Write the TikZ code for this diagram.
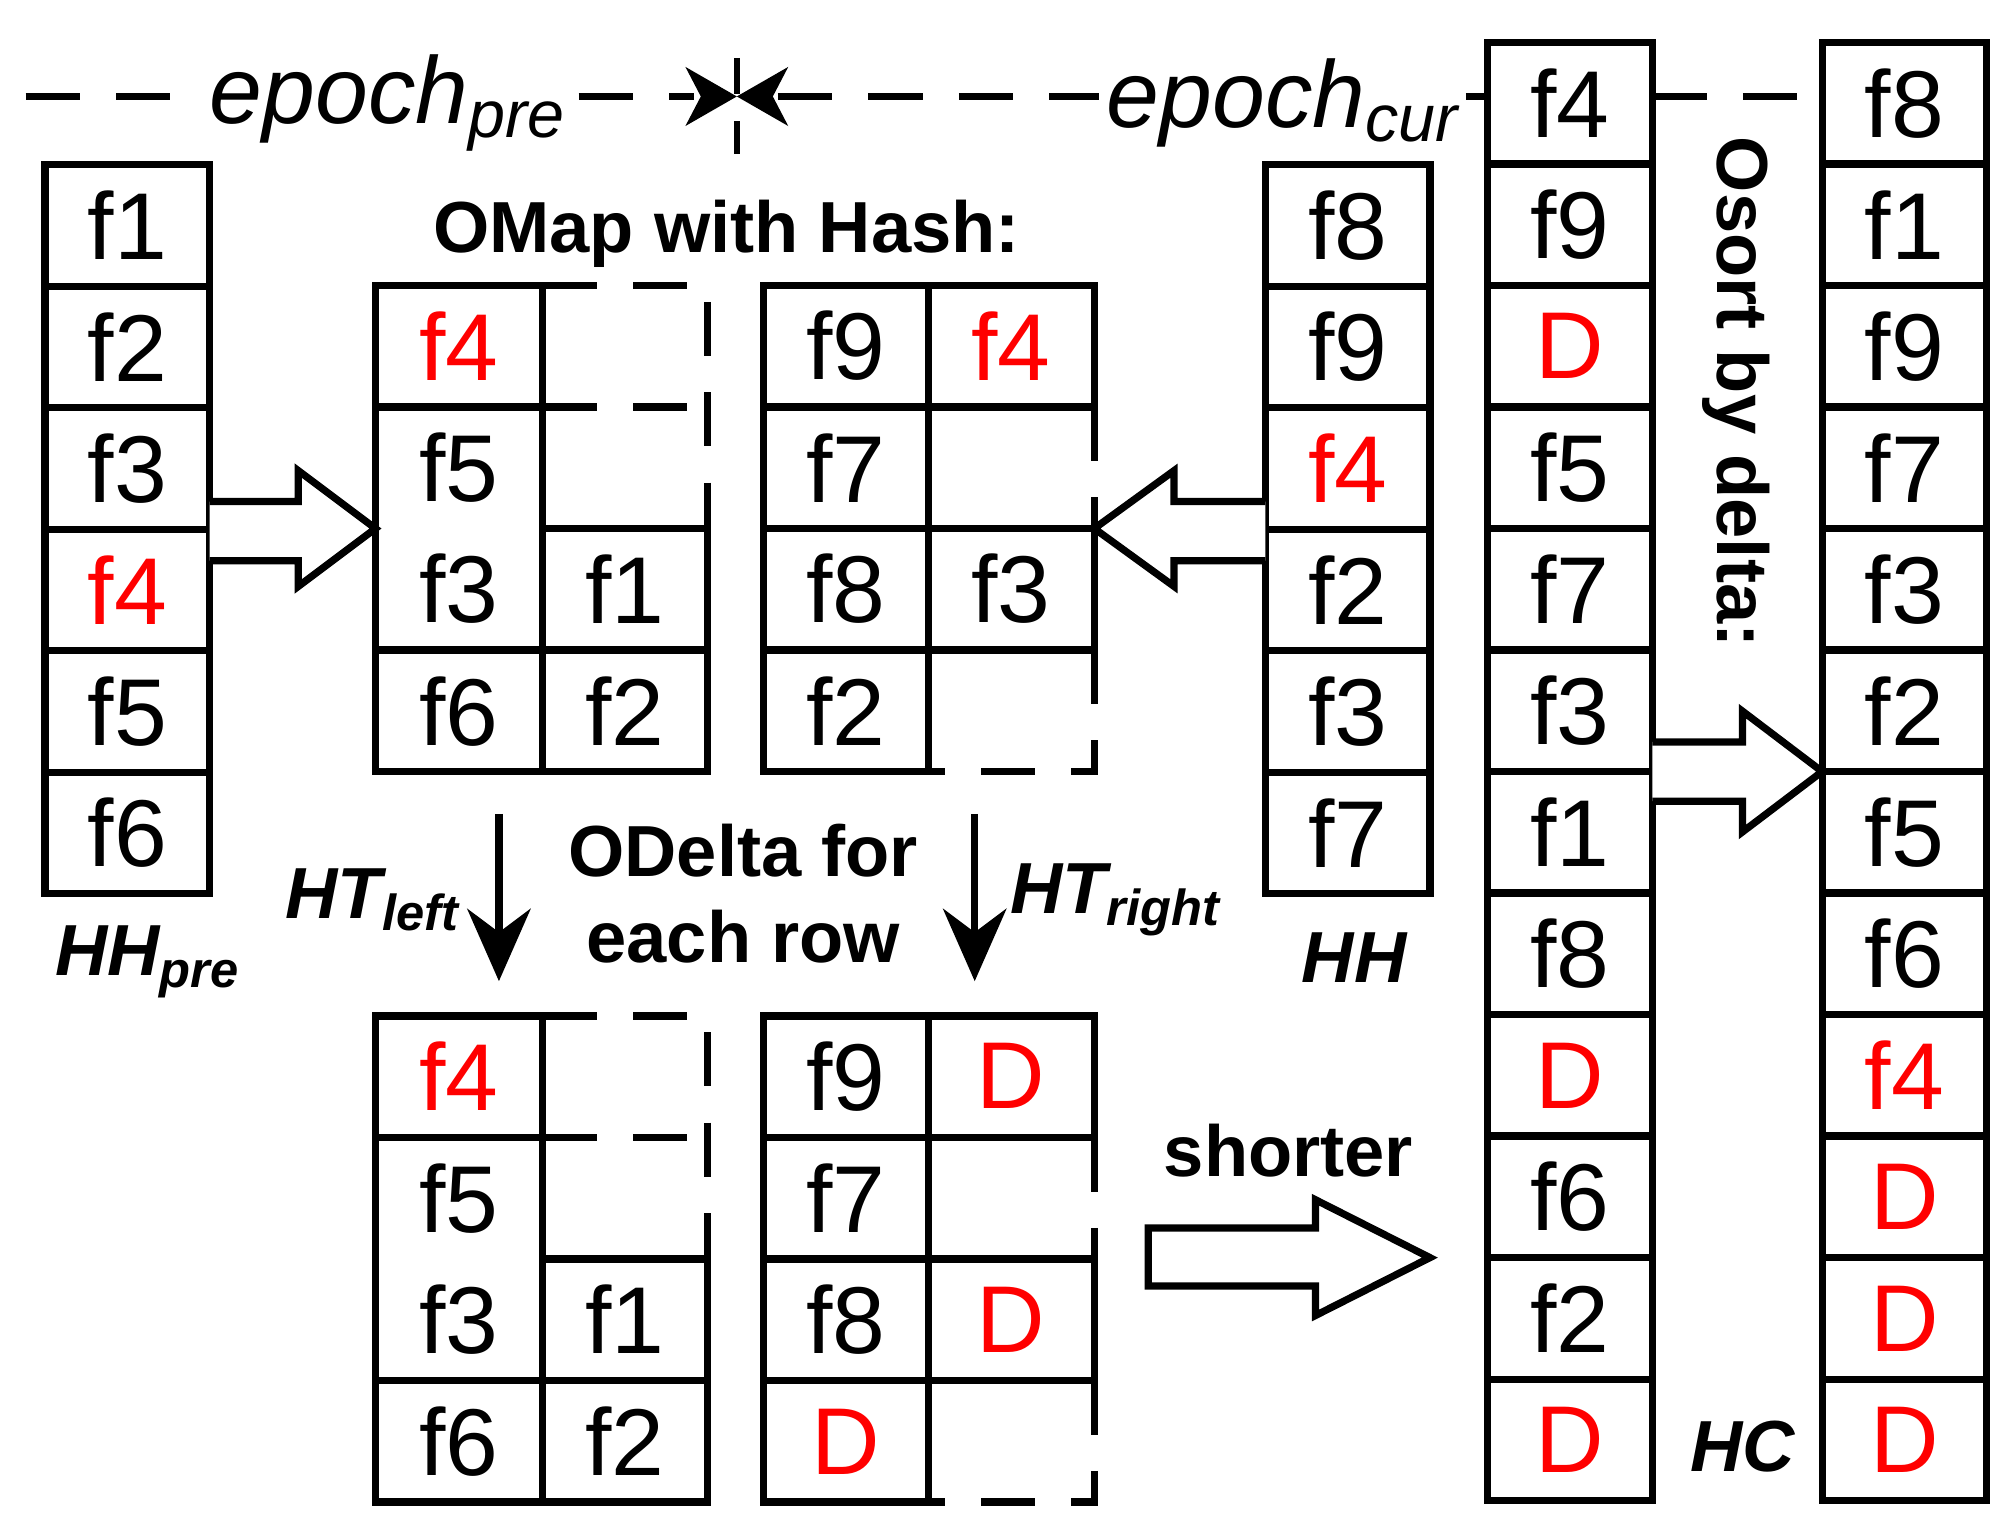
\documentclass[tikz,border=0pt]{standalone}
\usepackage{fontspec}
\setmainfont{Liberation Sans}
\usetikzlibrary{arrows.meta}
\begin{document}
\begin{tikzpicture}[x=0.01cm,y=-0.01cm,
  grid/.style={line width=1.6pt},
  dsh/.style={line width=1.6pt,dash pattern=on 12pt off 8pt},
  cell/.style={font=\fontsize{21}{23}\selectfont},
  red cell/.style={cell,text=red},
  lbl/.style={font=\bfseries\fontsize{16}{19}\selectfont},
  ilbl/.style={font=\bfseries\itshape\fontsize{16}{19}\selectfont},
  hollow/.style={line width=1.6pt,fill=white,line join=miter}]
\useasboundingbox (0,0) rectangle (1560,1190);
\def\h{94.5}
% single columns: #1 left x, #2 top y, #3 list, #4 name prefix
\newcommand\colbox[4]{%
  \foreach \t [count=\i] in {#3}{%
    \pgfmathsetmacro\yy{#2+(\i-1)*\h}
    \draw[grid] (#1,\yy) rectangle ++(128,\h);
    \node[cell] (#4\i) at (#1+64,\yy+\h/2) {\t};
  }}
\colbox{35}{128}{f1,f2,f3,\textcolor{red}{f4},f5,f6}{hp}
\colbox{984}{128}{f8,f9,\textcolor{red}{f4},f2,f3,f7}{hh}
\colbox{1157}{33}{f4,f9,\textcolor{red}{D},f5,f7,f3,f1,f8,\textcolor{red}{D},f6,f2,\textcolor{red}{D}}{hc}
\colbox{1417}{33}{f8,f1,f9,f7,f3,f2,f5,f6,\textcolor{red}{f4},\textcolor{red}{D},\textcolor{red}{D},\textcolor{red}{D}}{hs}
% left tables (top and bottom)
\foreach \y/\n in {222/tl,790/bl}{
  \begin{scope}[yshift=-\y*0.01cm]
  \draw[grid] (422,0) -- (292,0) -- (292,378) -- (550,378) -- (550,189) -- (422,189);
  \draw[grid] (292,94.5) -- (422,94.5) (292,283.5) -- (550,283.5) (422,0) -- (422,378);
  \draw[dsh] (422,0) -- (550,0) -- (550,189) (422,94.5) -- (550,94.5);
  \node[red cell] (\n a) at (357,47) {f4};
  \node[cell] (\n b) at (357,142) {f5};
  \node[cell] (\n c) at (357,236) {f3};
  \node[cell] (\n d) at (486,236) {f1};
  \node[cell] (\n e) at (357,331) {f6};
  \node[cell] (\n f) at (486,331) {f2};
  \end{scope}}
% right tables
\foreach \y/\n/\ra in {222/tr/f4,790/br/D}{
  \begin{scope}[yshift=-\y*0.01cm]
  \draw[grid] (722,378) -- (594,378) -- (594,0) -- (851,0) -- (851,94.5) (851,189) -- (851,283.5);
  \draw[grid] (594,94.5) -- (851,94.5) (594,189) -- (851,189) (594,283.5) -- (851,283.5) (722,0) -- (722,378);
  \draw[dsh] (851,94.5) -- (851,189) (851,283.5) -- (851,378) -- (722,378);
  \node[cell] (\n a) at (658,47) {f9};
  \node[red cell] (\n b) at (786,47) {\ra};
  \node[cell] (\n c) at (658,142) {f7};
  \node[cell] (\n d) at (658,236) {f8};
  \end{scope}}
\node[cell] (tr e) at (786,458) {f3};
\node[red cell] (br e) at (786,1026) {D};
\node[cell] (tr f) at (658,553) {f2};
\node[red cell] (br f) at (658,1121) {D};
% epoch line
\draw[dsh] (20,75) -- (160,75) (450,75) -- (540,75) (605,75) -- (855,75) (1140,75) -- (1157,75) (1285,75) -- (1417,75);
\draw[line width=1.2pt,dash pattern=on 8pt off 6pt] (573,45) -- (573,120);
\fill (573,75) -- (533,52) -- (545,75) -- (533,98) -- cycle;
\fill (573,75) -- (613,52) -- (601,75) -- (613,98) -- cycle;
\node[font=\itshape\fontsize{21}{23}\selectfont] (ep) at (302,80) {epoch\textsubscript{pre}};
\node[font=\itshape\fontsize{21}{23}\selectfont] (ec) at (998,80) {epoch\textsubscript{cur}};
% hollow arrows
\draw[hollow] (163,390) -- (232,390) -- (232,366) -- (292,411) -- (232,456) -- (232,436) -- (163,436);
\draw[hollow] (984,390) -- (913,390) -- (913,366) -- (851,411) -- (913,456) -- (913,436) -- (984,436);
\draw[hollow] (1285,577) -- (1355,577) -- (1355,553) -- (1417,600) -- (1355,647) -- (1355,623) -- (1285,623);
\draw[hollow] (893,955) -- (1023,955) -- (1023,933) -- (1112,978) -- (1023,1023) -- (1023,1000) -- (893,1000) -- cycle;
% down arrows
\coordinate (d1a) at (388,633); \coordinate (d1b) at (388,763);
\coordinate (d2a) at (758,633); \coordinate (d2b) at (758,763);
\draw[line width=1.6pt,-{Stealth[length=16pt,width=14pt]}] (d1a) -- (d1b);
\draw[line width=1.6pt,-{Stealth[length=16pt,width=14pt]}] (d2a) -- (d2b);
% labels
\node[lbl] (om) at (565,182) {OMap with Hash:};
\node[lbl,align=center,inner sep=0pt] (od) at (578,695) {ODelta for\\each row};
\node[lbl] (sh) at (1002,895) {shorter};
\node[lbl,rotate=-90] (os) at (1350,305) {Osort by delta:};
\node[ilbl] (htl) at (290,700) {HT\textsubscript{left}};
\node[ilbl] (htr) at (868,700) {HT\textsubscript{right}};
\node[ilbl] (hhp) at (115,748) {HH\textsubscript{pre}};
\node[ilbl] (hhl) at (1053,745) {HH};
\node[ilbl] (hcl) at (1355,1125) {HC};
\end{tikzpicture}
\end{document}
